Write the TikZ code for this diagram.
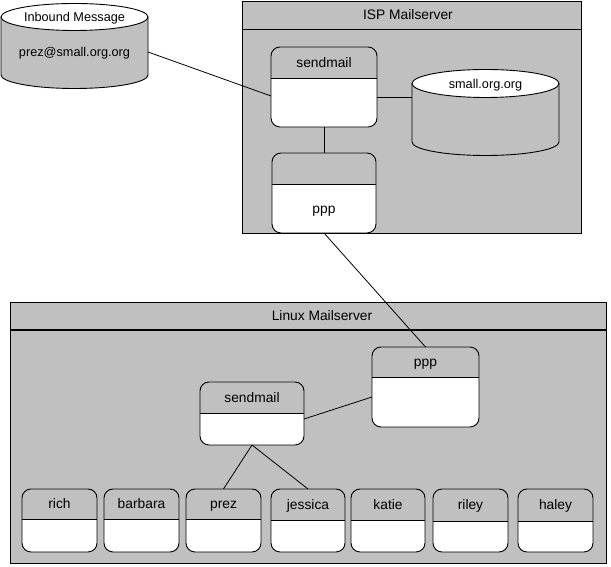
\documentclass[tikz,border=0pt]{standalone}
\usepackage{fontspec}
\setmainfont{Liberation Sans}
\usetikzlibrary{calc}
\definecolor{silver}{HTML}{C0C0C0}
\tikzset{
  lw/.style={line width=0.9pt},
  anchorbox/.style={rectangle, inner sep=0pt, outer sep=0pt, draw=none},
  container/.style={rectangle, draw, fill=silver, line width=0.9pt, inner sep=0pt, outer sep=0pt},
  lbl/.style={inner sep=0pt, text height=9.9pt, text depth=0pt, font=\fontsize{13.8}{16}\selectfont},
  cyllbl/.style={inner sep=0pt, text height=9.1pt, text depth=0pt, font=\fontsize{12.7}{15}\selectfont},
  conn/.style={line width=0.8pt},
}
% name, cx, cy, w, h, header height, top text, bottom text
\newcommand\mystate[8]{%
  \node[anchorbox, minimum width=#4pt, minimum height=#5pt] (#1) at (#2,#3) {};
  \fill[white, rounded corners=9pt] (#1.south west) rectangle (#1.north east);
  \begin{scope}
    \clip ([yshift=1pt]#1.north west) rectangle ([yshift=-#6pt]#1.north east);
    \fill[silver, rounded corners=9pt] (#1.south west) rectangle (#1.north east);
  \end{scope}
  \draw[lw] ([yshift=-#6pt]#1.north west) -- ([yshift=-#6pt]#1.north east);
  \draw[lw, rounded corners=9pt] (#1.south west) rectangle (#1.north east);
  \node[lbl] (#1-t) at ([yshift={-#6pt/2}]#1.north) {#7};
  \node[lbl] (#1-b) at ($([yshift=-#6pt]#1.north)!0.5!(#1.south)$) {#8};
}
\begin{document}
\begin{tikzpicture}[x=1pt,y=1pt]
\useasboundingbox (0,0) rectangle (611,567);
\fill[white] (0,0) rectangle (611,567);

% Inbound Message cylinder
\node[anchorbox, minimum width=147pt, minimum height=85pt] (inb) at (74.5,521) {};
\fill[silver] (1,550) -- (1,492) arc[start angle=180, end angle=360, x radius=73.5pt, y radius=13.5pt] -- (148,550) -- cycle;
\draw[lw] (1,550) -- (1,492) arc[start angle=180, end angle=360, x radius=73.5pt, y radius=13.5pt] -- (148,550);
\draw[lw, fill=white] (74.5,550) ellipse[x radius=73.5pt, y radius=13.5pt];
\node[cyllbl] (inb-t) at (74.5,550) {Inbound Message};
\node[cyllbl] (inb-b) at (74.5,515) {prez@small.org.org};

% ISP Mailserver
\node[container, minimum width=339pt, minimum height=232pt] (isp) at (411.5,450) {};
\draw[lw] ([yshift=-28pt]isp.north west) -- ([yshift=-28pt]isp.north east);
\node[lbl] (isp-t) at ([xshift=-3.5pt,yshift=-14pt]isp.north) {ISP Mailserver};

\mystate{isend}{324}{480}{106}{80}{31}{sendmail}{}
\mystate{ippp}{324}{374}{104}{80}{31}{}{ppp}

% small.org.org cylinder
\node[anchorbox, minimum width=147pt, minimum height=86.5pt] (sorg) at (485.5,454.75) {};
\fill[silver] (412,483.5) -- (412,425) arc[start angle=180, end angle=360, x radius=73.5pt, y radius=13.5pt] -- (559,483.5) -- cycle;
\draw[lw] (412,483.5) -- (412,425) arc[start angle=180, end angle=360, x radius=73.5pt, y radius=13.5pt] -- (559,483.5);
\draw[lw, fill=white] (485.5,483.5) ellipse[x radius=73.5pt, y radius=14pt];
\node[cyllbl] (sorg-t) at (485.5,483.5) {small.org.org};

% Linux Mailserver
\node[container, minimum width=596pt, minimum height=261pt] (lin) at (308,134.5) {};
\draw[line width=1.8pt] ([yshift=-28pt]lin.north west) -- ([yshift=-28pt]lin.north east);
\node[lbl] (lin-t) at ([xshift=14pt,yshift=-14pt]lin.north) {Linux Mailserver};

\mystate{lppp}{425.5}{180}{107}{80}{30}{ppp}{}
\mystate{lsend}{252}{153.5}{104}{63}{31}{sendmail}{}

\mystate{rich}{59.5}{46.5}{75}{63}{30}{rich}{}
\mystate{barbara}{141.5}{46.5}{75}{63}{30}{barbara}{}
\mystate{prez}{223.5}{46.5}{75}{63}{30}{prez}{}
\mystate{jessica}{308}{46.5}{74}{63}{31}{jessica}{}
\mystate{katie}{388}{46.5}{74}{63}{31}{katie}{}
\mystate{riley}{470.5}{46.5}{75}{63}{32}{riley}{}
\mystate{haley}{555.5}{46.5}{75}{63}{32}{haley}{}

% connectors
\draw[conn] ([yshift=-6pt]inb.east) -- ([yshift=-9pt]isend.west);
\draw[conn] ([yshift=-10pt]isend.east) -- ([yshift=15.25pt]sorg.west);
\draw[conn] (isend.south) -- (ippp.north);
\draw[conn] (ippp.south) -- (lppp.north);
\draw[conn] ([yshift=-5.5pt]lsend.east) -- ([yshift=-10pt]lppp.west);
\draw[conn] (lsend.south) -- (prez.north);
\draw[conn] (lsend.south) -- (jessica.north);
\end{tikzpicture}
\end{document}
